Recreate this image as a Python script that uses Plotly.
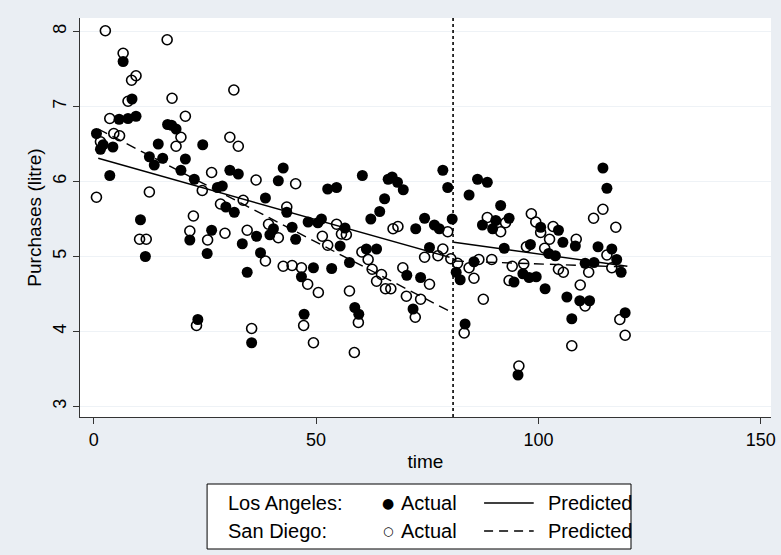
import plotly.graph_objects as go

# ---------------- data ----------------
la_time = [0.6, 1.5, 2.1, 3.6, 4.3, 5.7, 6.6, 7.7, 8.6, 9.5, 10.5, 11.6, 12.5, 13.6, 14.5, 15.5, 16.6, 17.5, 18.5, 19.6,
           20.6, 21.6, 22.6, 23.4, 24.5, 25.5, 26.5, 27.8, 28.9, 29.7, 30.6, 31.6, 32.5, 33.4, 34.5, 35.5, 36.6, 37.5, 38.6, 39.6,
           40.4, 41.5, 42.6, 43.4, 44.6, 45.4, 46.7, 47.3, 48.2, 49.4, 50.4, 51.2, 52.6, 53.5, 54.6, 55.4, 56.5, 57.5, 58.7, 59.6,
           60.4, 61.3, 62.3, 63.6, 64.3, 65.4, 66.2, 67.1, 68.3, 69.6, 70.4, 71.8, 72.4, 73.5, 74.4, 75.5, 76.6, 77.7, 78.5, 79.6,
           80.6, 81.5, 82.4, 83.5, 84.4, 85.5, 86.3, 87.4, 88.5, 89.7, 90.4, 91.5, 92.3, 93.4, 94.5, 95.4, 96.5, 97.9, 98.2, 99.5,
           100.5, 101.5, 102.3, 103.8, 104.5, 105.5, 106.4, 107.5, 108.3, 109.3, 110.5, 111.5, 112.5, 113.4, 114.5, 115.4, 116.5, 117.6, 118.6, 119.5]
la_actual = [6.64, 6.43, 6.49, 6.08, 6.46, 6.83, 7.60, 6.84, 7.10, 6.87, 5.49, 5.00, 6.33, 6.22, 6.50, 6.31, 6.76, 6.75, 6.70, 6.15,
             6.30, 5.22, 6.03, 4.16, 6.49, 5.04, 5.35, 5.92, 5.94, 5.66, 6.15, 5.59, 6.10, 5.17, 4.79, 3.85, 5.27, 5.05, 5.78, 5.29,
             5.37, 6.01, 6.18, 5.59, 5.39, 5.23, 4.73, 4.23, 5.46, 4.85, 5.45, 5.50, 5.90, 4.84, 5.92, 5.14, 5.38, 4.92, 4.32, 4.23,
             6.08, 5.10, 5.50, 5.10, 5.60, 5.77, 6.03, 6.06, 5.99, 5.89, 4.75, 4.30, 5.37, 4.72, 5.51, 5.12, 5.42, 5.37, 6.15, 5.92,
             5.50, 4.79, 4.69, 4.10, 5.82, 4.93, 6.03, 5.42, 5.99, 5.37, 5.48, 5.68, 5.11, 5.51, 4.66, 3.42, 4.77, 4.72, 5.16, 4.73,
             5.39, 4.57, 5.04, 5.01, 5.35, 5.19, 4.46, 4.17, 5.14, 4.41, 4.91, 4.41, 4.92, 5.13, 6.18, 5.91, 5.10, 4.96, 4.79, 4.25]

sd_time = [0.6, 1.5, 2.6, 3.6, 4.5, 5.8, 6.6, 7.7, 8.5, 9.5, 10.3, 11.8, 12.5, 16.5, 17.6, 18.5, 19.6, 20.6, 21.6, 22.4,
           23.1, 24.4, 25.6, 26.5, 28.5, 29.5, 30.6, 31.5, 32.5, 33.6, 34.5, 35.5, 36.5, 38.6, 39.3, 41.5, 42.6, 43.4, 44.6, 45.4,
           46.7, 47.2, 48.1, 49.4, 50.5, 51.4, 52.6, 54.6, 55.7, 56.8, 57.5, 58.6, 59.5, 60.3, 61.7, 62.6, 63.6, 64.7, 65.6, 66.8,
           67.3, 68.4, 69.5, 70.3, 72.3, 73.5, 74.4, 75.5, 77.4, 78.5, 79.6, 80.3, 81.8, 83.3, 84.4, 85.5, 86.6, 87.6, 88.5, 89.5,
           91.5, 92.6, 93.4, 94.1, 95.6, 96.7, 97.3, 98.4, 99.4, 100.5, 101.4, 102.5, 103.3, 104.5, 105.6, 107.5, 108.5, 109.4,
           110.5, 111.3, 112.4, 114.5, 115.4, 116.5, 117.4, 118.3, 119.5]
sd_actual = [5.79, 6.53, 8.01, 6.84, 6.64, 6.61, 7.71, 7.07, 7.35, 7.41, 5.23, 5.23, 5.86, 7.89, 7.11, 6.47, 6.59, 6.87, 5.34, 5.54,
             4.08, 5.88, 5.22, 6.12, 5.70, 5.31, 6.59, 7.22, 6.47, 5.75, 5.35, 4.04, 6.02, 4.94, 5.43, 5.25, 4.87, 5.66, 4.88, 5.97,
             4.85, 4.08, 4.63, 3.85, 4.52, 5.27, 5.15, 5.43, 5.30, 5.29, 4.54, 3.72, 4.12, 5.06, 4.96, 4.83, 4.67, 4.76, 4.57, 4.57,
             5.37, 5.40, 4.85, 4.47, 4.19, 4.43, 4.99, 4.63, 5.01, 5.10, 5.33, 4.97, 4.91, 3.98, 4.85, 4.71, 4.96, 4.43, 5.52, 4.96,
             5.33, 5.45, 4.68, 4.87, 3.54, 4.90, 5.13, 5.57, 5.46, 5.32, 5.11, 5.23, 5.40, 4.83, 4.79, 3.81, 5.23, 4.62,
             4.34, 4.79, 5.51, 5.63, 5.02, 4.85, 5.39, 4.16, 3.95]

# predicted (segmented regression) end points
la_pred_pre_t = [1, 80]
la_pred_pre = [6.31, 4.99]
la_pred_post_t = [81, 120]
la_pred_post = [5.19, 4.87]
sd_pred_pre_t = [1, 80]
sd_pred_pre = [6.70, 4.27]
sd_pred_post_t = [81, 120]
sd_pred_post = [4.94, 4.86]

intervention_t = 80.8
x_ticks = [0, 50, 100, 150]
y_ticks = [3, 4, 5, 6, 7, 8]

# ---------------- figure ----------------
FONT = "Liberation Sans Narrow, Liberation Sans, Arial Narrow, sans-serif"
W, H = 781, 555
L, R, T, B = 80, 5, 18, 138

fig = go.Figure()

fig.add_trace(go.Scatter(x=sd_time, y=sd_actual, mode="markers",
                         marker=dict(symbol="circle-open", size=10, color="black",
                                     line=dict(width=1.6, color="black")),
                         showlegend=False))
fig.add_trace(go.Scatter(x=la_time, y=la_actual, mode="markers",
                         marker=dict(symbol="circle", size=11, color="black"),
                         showlegend=False))
for tt, yy, dash in [(la_pred_pre_t, la_pred_pre, "solid"), (la_pred_post_t, la_pred_post, "solid"),
                     (sd_pred_pre_t, sd_pred_pre, "10px,6px"), (sd_pred_post_t, sd_pred_post, "10px,6px")]:
    fig.add_trace(go.Scatter(x=tt, y=yy, mode="lines",
                             line=dict(color="black", width=1.4, dash=dash),
                             showlegend=False))

fig.add_shape(type="line", x0=intervention_t, x1=intervention_t, y0=0, y1=1,
              xref="x", yref="paper", line=dict(color="black", width=1.6, dash="3px,3px"))

# manual legend (Stata-style box)
pw, ph = W - L - R, H - T - B
def px(x):
    return (x - L) / pw
def py(y):
    return (H - B - y) / ph

LEG = 20
fig.add_shape(type="rect", xref="paper", yref="paper",
              x0=px(208), x1=px(635), y0=py(484), y1=py(549),
              line=dict(color="black", width=1), fillcolor="white")
rows = [("Los Angeles:", "●", "solid", 503), ("San Diego:", "○", "dash", 531)]
for label, sym, dash, yc in rows:
    fig.add_annotation(xref="paper", yref="paper", x=px(227), y=py(yc), text=label,
                       showarrow=False, xanchor="left", yanchor="middle",
                       font=dict(family=FONT, size=LEG, color="black"))
    fig.add_annotation(xref="paper", yref="paper", x=px(390), y=py(yc), text=sym,
                       showarrow=False, xanchor="center", yanchor="middle",
                       font=dict(family="DejaVu Sans", size=14 if sym == "●" else 12, color="black"))
    fig.add_annotation(xref="paper", yref="paper", x=px(401), y=py(yc), text="Actual",
                       showarrow=False, xanchor="left", yanchor="middle",
                       font=dict(family=FONT, size=LEG, color="black"))
    fig.add_shape(type="line", xref="paper", yref="paper", x0=px(487), x1=px(537),
                  y0=py(yc), y1=py(yc),
                  line=dict(color="black", width=1.4, dash="solid" if dash == "solid" else "9px,6px"))
    fig.add_annotation(xref="paper", yref="paper", x=px(549), y=py(yc), text="Predicted",
                       showarrow=False, xanchor="left", yanchor="middle",
                       font=dict(family=FONT, size=LEG, color="black"))

fig.update_layout(
    width=W, height=H,
    margin=dict(l=L, r=R, t=T, b=B),
    paper_bgcolor="#eaeef3",
    plot_bgcolor="white",
    font=dict(family=FONT, size=16, color="black"),
    showlegend=False,
)
fig.update_xaxes(range=[-3.1, 152.3], tickvals=x_ticks, ticks="outside", ticklen=6,
                 tickcolor="#333", showline=True, linecolor="#333", linewidth=1,
                 showgrid=False, zeroline=False, mirror=False,
                 tickfont=dict(family=FONT, size=18),
                 title=dict(text="time", font=dict(family=FONT, size=19), standoff=6))
fig.update_yaxes(range=[2.86, 8.18], tickvals=y_ticks, ticks="outside", ticklen=6,
                 tickcolor="#333", showline=True, linecolor="#333", linewidth=1,
                 showgrid=True, gridcolor="#eef2f6", gridwidth=1, zeroline=False,
                 tickangle=-90, tickfont=dict(family=FONT, size=18),
                 title=dict(text="Purchases (litre)", font=dict(family=FONT, size=19), standoff=3))

fig.write_html("out.html")
